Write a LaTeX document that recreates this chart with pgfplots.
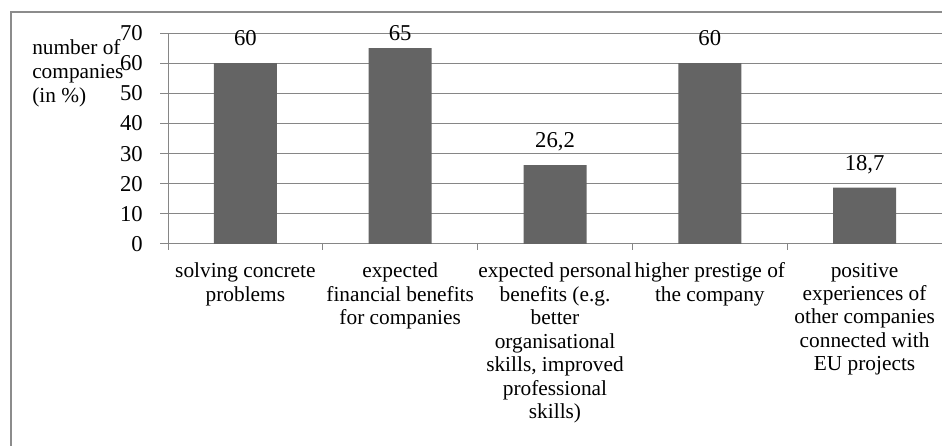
\documentclass[border=0pt]{standalone}
\usepackage{fontspec}
\setmainfont{Liberation Serif}
\usepackage{pgfplots}
\usepackage{pgfplotstable}
\pgfplotsset{compat=1.18}
\definecolor{barcol}{RGB}{100,100,100}
\definecolor{gridcol}{RGB}{134,134,134}
\definecolor{framecol}{RGB}{140,140,140}
\pgfplotstableread{
x y label shift
0 60 60 13.5
1 65 65 6
2 26.2 {26,2} 13.5
3 60 60 13.5
4 18.7 {18,7} 13
}\datatable
\begin{document}
\begin{tikzpicture}
\useasboundingbox (0,0) rectangle (706.5pt,334.5pt);
\clip (0,0) rectangle (706.5pt,334.5pt);
\draw[framecol, line width=1.5pt] (8.25pt,-5pt) -- (8.25pt,325.5pt) -- (720pt,325.5pt);
\begin{axis}[
 at={(126pt,151.5pt)}, anchor=south west,
 scale only axis, width=580.5pt, height=158.25pt,
 xmin=-0.5, xmax=4.5, ymin=0, ymax=70,
 ytick={0,10,...,70},
 axis x line*=bottom, axis y line*=left,
 axis line style={gridcol, line width=0.75pt},
 ymajorgrids, grid style={gridcol, line width=0.75pt},
 tick align=outside, major tick length=6pt,
 ytick style={gridcol, line width=0.75pt},
 xtick={0,...,4}, xtick style={draw=none},
 xticklabels={{solving concrete\\problems},{expected\\financial benefits\\for companies},{expected personal\\benefits (e.g.\\better\\organisational\\skills, improved\\professional\\skills)},{higher prestige of\\the company},{positive\\experiences of\\other companies\\connected with\\EU projects}},
 xticklabel style={align=center, font=\fontsize{16}{17.6}\selectfont, anchor=north, inner sep=0pt, yshift=-8pt},
 yticklabel style={font=\fontsize{17}{18}\selectfont, anchor=east, inner sep=0pt, xshift=-12.75pt},
 /pgf/number format/assume math mode=true,
 extra x ticks={-0.5,0.5,1.5,2.5,3.5},
 extra x tick labels={},
 extra x tick style={xtick style={draw=gridcol, line width=0.75pt}, major tick length=4.5pt, grid=none},
 ybar, bar width=47.25pt,
 nodes near coords, point meta=explicit symbolic,
 visualization depends on={\thisrow{shift} \as \myshift},
 every node near coord/.append style={font=\fontsize{17}{20}\selectfont, anchor=base, inner sep=0pt, yshift=\myshift},
 clip=false,
]
\addplot[fill=barcol, draw=none] table[x=x, y=y, meta=label] {\datatable};
\end{axis}
\node[anchor=north west, align=left, inner sep=0pt, font=\fontsize{16}{18}\selectfont] at (24pt, 305pt) {number of\\companies\\(in \%)};
\end{tikzpicture}
\end{document}
